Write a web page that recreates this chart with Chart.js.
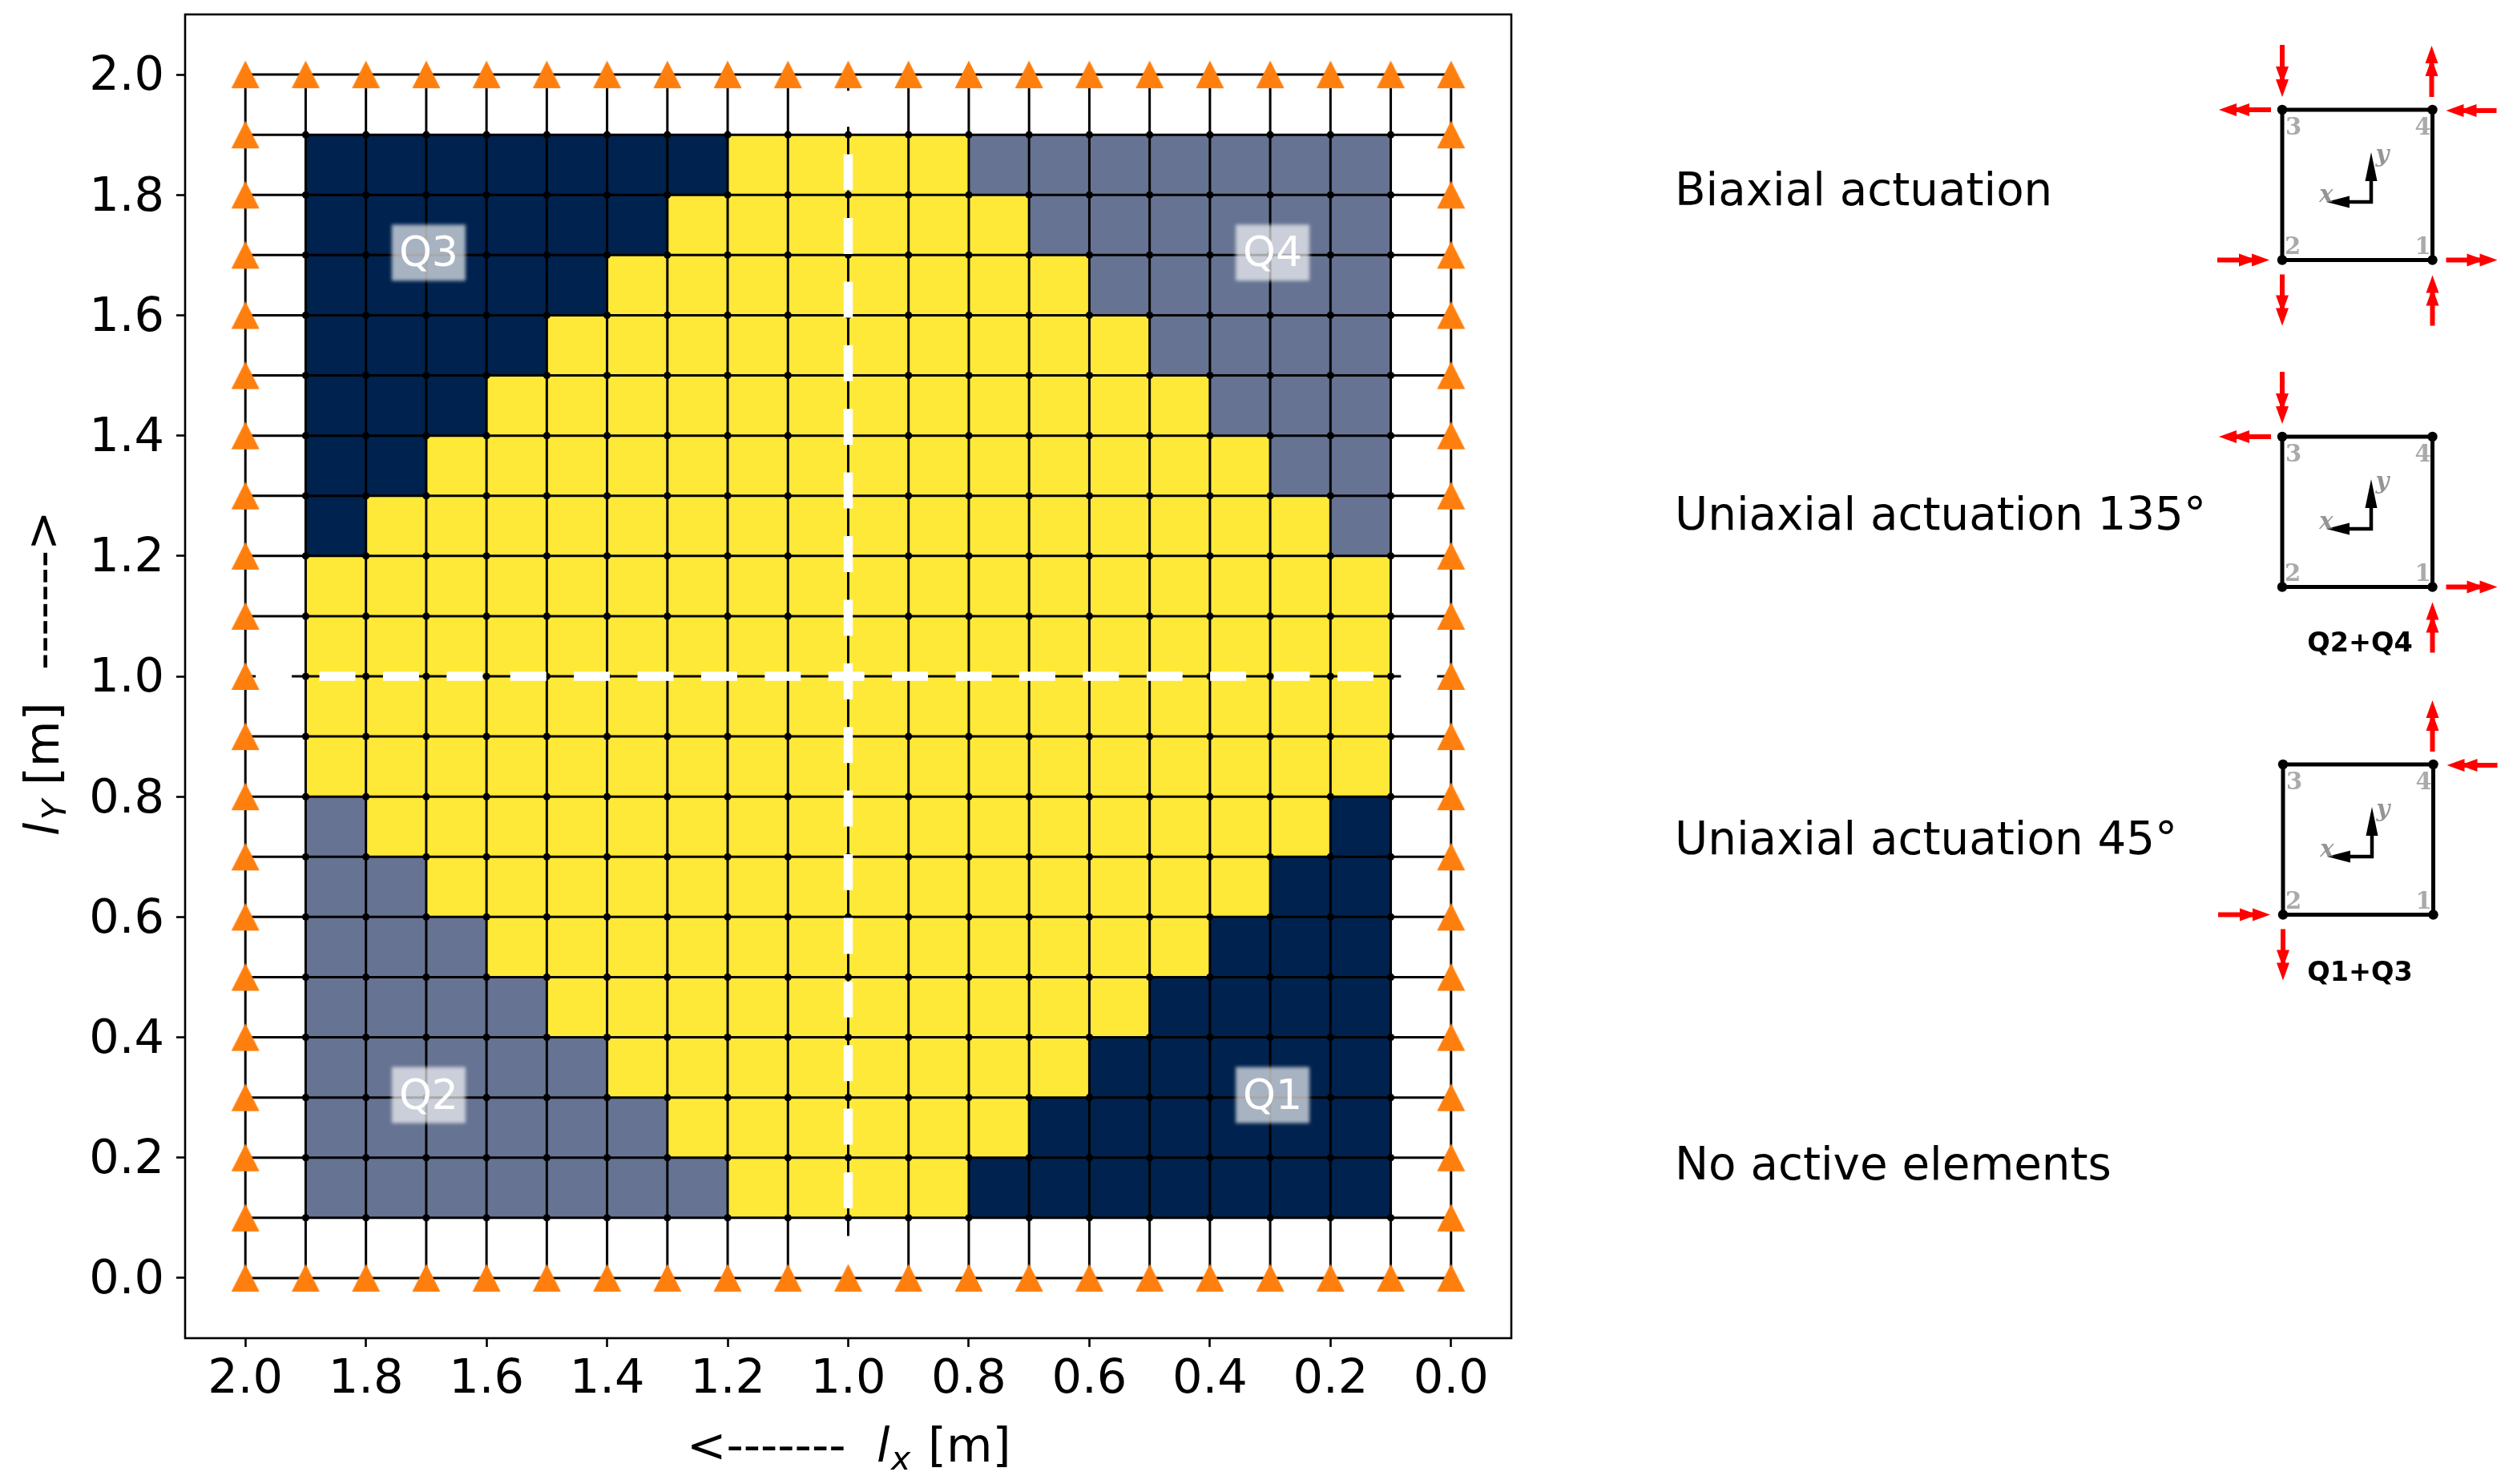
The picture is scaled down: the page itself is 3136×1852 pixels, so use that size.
<!DOCTYPE html>
<html>
<head>
<meta charset="utf-8">
<style>html,body{margin:0;padding:0;background:#fff}canvas{display:block}</style>
<script src="https://cdn.jsdelivr.net/npm/chart.js@4"></script>
</head>
<body>
<canvas id="c" width="3136" height="1852" style="width:3136px;height:1852px"></canvas>
<script>
// ---- data ----
const xTicks = [2.0,1.8,1.6,1.4,1.2,1.0,0.8,0.6,0.4,0.2,0.0];
const yTicks = [0.0,0.2,0.4,0.6,0.8,1.0,1.2,1.4,1.6,1.8,2.0];
const meshCoords = [0,0.1,0.2,0.3,0.4,0.5,0.6,0.7,0.8,0.9,1,1.1,1.2,1.3,1.4,1.5,1.6,1.7,1.8,1.9,2];
const elemColumns = [1.85,1.75,1.65,1.55,1.45,1.35,1.25,1.15,1.05,0.95,0.85,0.75,0.65,0.55,0.45,0.35,0.25,0.15];
const elemRows = [1.85,1.75,1.65,1.55,1.45,1.35,1.25,1.15,1.05,0.95,0.85,0.75,0.65,0.55,0.45,0.35,0.25,0.15];
// N = Q1/Q3 group, L = Q2/Q4 group, Y = biaxial
const elementGrid = [
 "NNNNNNNYYYYLLLLLLL",
 "NNNNNNYYYYYYLLLLLL",
 "NNNNNYYYYYYYYLLLLL",
 "NNNNYYYYYYYYYYLLLL",
 "NNNYYYYYYYYYYYYLLL",
 "NNYYYYYYYYYYYYYYLL",
 "NYYYYYYYYYYYYYYYYL",
 "YYYYYYYYYYYYYYYYYY",
 "YYYYYYYYYYYYYYYYYY",
 "YYYYYYYYYYYYYYYYYY",
 "YYYYYYYYYYYYYYYYYY",
 "LYYYYYYYYYYYYYYYYN",
 "LLYYYYYYYYYYYYYYNN",
 "LLLYYYYYYYYYYYYNNN",
 "LLLLYYYYYYYYYYNNNN",
 "LLLLLYYYYYYYYNNNNN",
 "LLLLLLYYYYYYNNNNNN",
 "LLLLLLLYYYYNNNNNNN"
];
const quadrantLabels = ["Q1","Q2","Q3","Q4"];
const quadrantX = [0.3,1.7,1.7,0.3];
const quadrantY = [0.3,0.3,1.7,1.7];
const legendTexts = ["Biaxial actuation","Uniaxial actuation 135°","Uniaxial actuation 45°","No active elements"];

// ---- datasets from data ----
const NAVY='#00224e', LIGHT='#667392', YELLOW='#fee838', ORANGE='#ff7f0e';
function cells(code){
  const out=[];
  elementGrid.forEach((row,r)=>{[...row].forEach((ch,c)=>{ if(ch===code) out.push({x:elemColumns[c],y:elemRows[r]}); });});
  return out;
}
const gap={x:NaN,y:NaN};
const meshLines=[];
meshCoords.forEach(v=>{ meshLines.push({x:2,y:v},{x:0,y:v},gap,{x:v,y:0},{x:v,y:2},gap); });
const innerNodes=[], supports=[];
meshCoords.forEach(a=>meshCoords.forEach(b=>{
  if(a===0||a===2||b===0||b===2) supports.push({x:a,y:b}); else innerNodes.push({x:a,y:b});
}));
const tri=document.createElement('canvas'); tri.width=36; tri.height=36;
(function(){const t=tri.getContext('2d');t.fillStyle=ORANGE;t.beginPath();t.moveTo(18,0.5);t.lineTo(35.5,35);t.lineTo(0.5,35);t.closePath();t.fill();})();

const cellRadius=ctx=>{const s=ctx.chart.scales.x;return Math.abs(s.getPixelForValue(0)-s.getPixelForValue(0.1))/Math.SQRT2;};
const cellDs=(code,color,label)=>({label,data:cells(code),pointStyle:'rect',pointRadius:cellRadius,pointBackgroundColor:color,pointBorderWidth:0,showLine:false,order:5});

const fontFamily="'DejaVu Sans'";
function zeroPad(s){s.paddingLeft=s.paddingRight=s.paddingTop=s.paddingBottom=0;}

// ---- plugins ----
const framePlugin={id:'frame',afterDraw(chart){
  const {ctx,chartArea:a}=chart;
  ctx.save();ctx.strokeStyle='#000';ctx.lineWidth=2.6;ctx.strokeRect(a.left,a.top,a.right-a.left,a.bottom-a.top);ctx.restore();
}};
const quadPlugin={id:'quad',afterDatasetsDraw(chart){
  const {ctx,scales:{x,y}}=chart;
  ctx.save();
  quadrantLabels.forEach((t,i)=>{
    const px=x.getPixelForValue(quadrantX[i]), py=y.getPixelForValue(quadrantY[i]);
    ctx.save();
    ctx.filter='blur(2.2px)';
    ctx.fillStyle='rgba(255,255,255,0.66)';
    ctx.fillRect(px-43,py-38,92,70);
    ctx.restore();
    ctx.fillStyle='#fff';ctx.font="52px "+fontFamily;ctx.textAlign='center';ctx.textBaseline='alphabetic';
    ctx.fillText(t,px+3,py+14);
  });
  ctx.restore();
}};
const titlesPlugin={id:'titles',afterDraw(chart){
  const {ctx}=chart;
  ctx.save();ctx.fillStyle='#000';ctx.textBaseline='alphabetic';ctx.textAlign='left';
  const nf="59px "+fontFamily, itf="italic 59px "+fontFamily, sf="italic 41px "+fontFamily;
  // x axis title
  ctx.font=nf;ctx.fillText('<-------',857,1824);
  ctx.font=itf;ctx.fillText('l',1094,1824);
  ctx.font=sf;ctx.fillText('x',1112,1834);
  ctx.font=nf;ctx.fillText('[m]',1158,1824);
  // y axis title
  ctx.save();ctx.translate(72.7,1040);ctx.rotate(-Math.PI/2);
  ctx.font=itf;ctx.fillText('l',-3,0);
  ctx.font=sf;ctx.fillText('Y',17,9);
  ctx.font=nf;ctx.fillText('[m]',60,0);
  ctx.fillText('------->',204,0);
  ctx.restore();
  // legend texts
  ctx.font="56.3px "+fontFamily;
  const ys=[256,661,1066,1472];
  legendTexts.forEach((t,i)=>ctx.fillText(t,2090,ys[i]));
  ctx.restore();
}};
function arrow(ctx,x0,y0,x1,y1,opt){
  const a=Math.atan2(y1-y0,x1-x0),L=Math.hypot(x1-x0,y1-y0);
  ctx.save();ctx.translate(x0,y0);ctx.rotate(a);ctx.fillStyle=opt.color;
  const heads=opt.heads||1, step=opt.step||0;
  ctx.fillRect(0,-opt.w/2,L-opt.hl+1,opt.w);
  for(let k=0;k<heads;k++){
    const tip=L-k*step;
    ctx.beginPath();ctx.moveTo(tip,0);ctx.lineTo(tip-opt.hl,-opt.hw/2);ctx.lineTo(tip-opt.hl,opt.hw/2);ctx.closePath();ctx.fill();
  }
  ctx.restore();
}
const red={color:'#f00',w:6,hl:22,hw:16,heads:2,step:16};
const nodeArrows={
  3:[[0,-81,0,-16],[-14,0,-79,0]],
  4:[[-1,-16,-1,-80],[80,1,17,1]],
  2:[[-81,0,-16,0],[0,18,0,82]],
  1:[[17,0,81,0],[0,82,0,19]]
};
const insets=[
  {x:2848,y:137,active:[1,2,3,4]},
  {x:2848,y:545,active:[3,1],cap:'Q2+Q4',capY:804},
  {x:2849,y:954,active:[4,2],cap:'Q1+Q3',capY:1215}
];
const side=187.5;
const insetPlugin={id:'insets',afterDraw(chart){
  const {ctx}=chart;
  ctx.save();
  insets.forEach(e=>{
    const c={3:[e.x,e.y],4:[e.x+side,e.y],2:[e.x,e.y+side],1:[e.x+side,e.y+side]};
    ctx.strokeStyle='#000';ctx.lineWidth=5;ctx.strokeRect(e.x,e.y,side,side);
    ctx.fillStyle='#000';
    [1,2,3,4].forEach(n=>{ctx.beginPath();ctx.arc(c[n][0],c[n][1],6.2,0,Math.PI*2);ctx.fill();});
    e.active.forEach(n=>nodeArrows[n].forEach(a=>arrow(ctx,c[n][0]+a[0],c[n][1]+a[1],c[n][0]+a[2],c[n][1]+a[3],red)));
    // local axes
    const ox=e.x+111,oy=e.y+115;
    arrow(ctx,ox+2,oy,ox-56,oy,{color:'#000',w:4.5,hl:29,hw:15});
    arrow(ctx,ox,oy+2,ox,oy-62,{color:'#000',w:4.5,hl:36,hw:15});
    ctx.textAlign='center';ctx.textBaseline='middle';
    ctx.font="bold 29px 'DejaVu Serif'";ctx.fillStyle='#aaaaaa';
    ctx.fillText('3',c[3][0]+14,c[3][1]+23);
    ctx.fillText('4',c[4][0]-12,c[4][1]+23);
    ctx.fillText('2',c[2][0]+13,c[2][1]-15);
    ctx.fillText('1',c[1][0]-12,c[1][1]-15);
    ctx.font="italic bold 29px 'DejaVu Serif'";ctx.fillStyle='rgba(130,130,130,0.85)';
    ctx.fillText('y',ox+14,oy-58);
    ctx.fillText('x',ox-56,oy-8);
    if(e.cap){ctx.font="bold 33.5px "+fontFamily;ctx.fillStyle='#000';ctx.fillText(e.cap,2945,e.capY);}
  });
  ctx.restore();
}};
const whitePage={id:'white',beforeDraw(chart){const {ctx,width,height}=chart;ctx.save();ctx.fillStyle='#fff';ctx.fillRect(0,0,width,height);ctx.restore();}};

new Chart(document.getElementById('c'),{
  type:'scatter',
  data:{datasets:[
    cellDs('N',NAVY,'Q1+Q3 elements'),
    cellDs('L',LIGHT,'Q2+Q4 elements'),
    cellDs('Y',YELLOW,'Biaxial elements'),
    {label:'mesh',data:meshLines,showLine:true,borderColor:'#000',borderWidth:3,pointRadius:0,spanGaps:false,order:4},
    {label:'nodes',data:innerNodes,pointRadius:4.6,pointBackgroundColor:'#000',pointBorderWidth:0,showLine:false,order:3},
    {label:'mid x',data:[{x:2,y:1},{x:0,y:1}],showLine:true,borderColor:'#fff',borderWidth:11.5,borderDash:[45,34.4],borderDashOffset:66.5,borderCapStyle:'butt',pointRadius:0,order:2},
    {label:'mid y',data:[{x:1,y:2},{x:1,y:0}],showLine:true,borderColor:'#fff',borderWidth:11.5,borderDash:[45,34.4],borderDashOffset:59.3,borderCapStyle:'butt',pointRadius:0,order:2},
    {label:'supports',data:supports,pointStyle:tri,pointRadius:17,showLine:false,order:1}
  ]},
  options:{
    responsive:false,animation:false,devicePixelRatio:1,events:[],
    layout:{padding:{left:0,top:16,right:1250,bottom:0}},
    plugins:{legend:{display:false},tooltip:{enabled:false},title:{display:false}},
    elements:{line:{tension:0}},
    scales:{
      x:{type:'linear',reverse:true,min:-0.1,max:2.1,position:'bottom',
        afterBuildTicks:s=>{s.ticks=xTicks.map(v=>({value:v}));},
        afterFit:s=>{s.height=182;zeroPad(s);},
        grid:{drawOnChartArea:false,drawTicks:true,tickLength:11,tickColor:'#000',tickWidth:2.6},
        border:{display:false},
        ticks:{autoSkip:false,maxRotation:0,minRotation:0,padding:6,color:'#000',font:{family:fontFamily,size:59},callback:v=>Number(v).toFixed(1)}
      },
      y:{type:'linear',min:-0.1,max:2.1,position:'left',
        afterBuildTicks:s=>{s.ticks=yTicks.map(v=>({value:v}));},
        afterFit:s=>{s.width=231;zeroPad(s);},
        grid:{drawOnChartArea:false,drawTicks:true,tickLength:11,tickColor:'#000',tickWidth:2.6},
        border:{display:false},
        ticks:{autoSkip:false,padding:15,labelOffset:4,color:'#000',font:{family:fontFamily,size:59},callback:v=>Number(v).toFixed(1)}
      }
    }
  },
  plugins:[whitePage,quadPlugin,framePlugin,titlesPlugin,insetPlugin]
});
</script>
</body>
</html>
